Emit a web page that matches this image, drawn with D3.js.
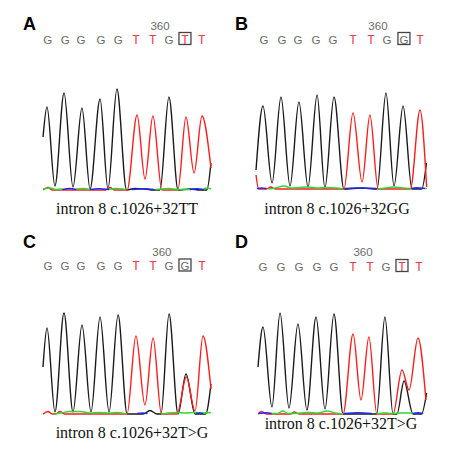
<!DOCTYPE html>
<html>
<head>
<meta charset="utf-8">
<script src="https://cdn.jsdelivr.net/npm/d3@7"></script>
<style>
body { margin: 0; background: #fff; }
</style>
</head>
<body>
<div class="figure"></div>
<script>
var width = 450, height = 461;

// panel texts
var panelNames = ["A", "B", "C", "D"];
var sequences = ["GGGGGTTGTT", "GGGGGTTGGT", "GGGGGTTGGT", "GGGGGTTGTT"];
var captions = ["intron 8 c.1026+32TT", "intron 8 c.1026+32GG", "intron 8 c.1026+32T>G", "intron 8 c.1026+32T>G"];
var markedBase = 8;
var positionLabel = "360";
var positionLabelAt = [6.56, 6.59, 6.63, 5.81];

// base call positions (in base units)
var baseCalls = [
	[0.04, 1.06, 1.97, 3.14, 4.14, 5.17, 6.14, 7.08, 8.01, 8.98],
	[0.06, 1.09, 2.01, 3.04, 4.01, 5.16, 6.19, 7.11, 8.08, 9.0],
	[0.06, 1.04, 1.96, 3.11, 4.1, 5.13, 6.12, 7.04, 7.96, 8.94],
	[0, 1.05, 2.09, 3.14, 4.12, 5.23, 6.21, 7.14, 8.07, 9.06]
];

// G channel (black): [position, signal]
var traceG = [
	[[-0.23,530],[0,830],[0.46,40],[0.99,970],[1.51,30],[2.03,820],[2.5,10],[3.08,910],[3.54,10],[4.06,1010],[4.62,0],[5.1,15],[5.7,10],[6.2,0],[6.56,0],[7.08,930],[7.61,0],[8.3,10],[8.9,0],[9.28,0],[9.52,270]],
	[[-0.4,190],[0,830],[0.52,60],[1.03,920],[1.55,30],[2.06,870],[2.58,20],[3.1,940],[3.55,10],[4.07,920],[4.64,0],[5.7,10],[6.54,0],[7.05,960],[7.51,30],[8.03,830],[8.54,0],[9.1,0],[9.37,260]],
	[[-0.23,470],[0,860],[0.46,20],[0.98,1010],[1.5,20],[2.02,890],[2.54,20],[3.06,970],[3.58,20],[4.1,990],[4.62,0],[5.54,0],[5.94,35],[6.35,0],[6.58,0],[7.04,1000],[7.56,0],[8.02,400],[8.54,0],[9.15,0],[9.46,300]],
	[[-0.29,470],[0,870],[0.52,70],[0.99,1010],[1.51,60],[2.03,900],[2.55,40],[3.08,970],[3.6,50],[4.12,1000],[4.65,0],[6.6,0],[7.08,970],[7.55,0],[7.78,0],[8.19,330],[8.71,0],[9.2,0],[9.5,210]]
];

// T channel (red)
var traceT = [
	[[-0.23,0],[0.05,25],[0.3,0],[3.4,0],[3.66,25],[3.9,0],[4.65,0],[5.23,750],[5.69,110],[6.15,740],[6.67,0],[7.6,0],[8.07,730],[8.54,170],[9.0,740],[9.52,220]],
	[[-0.4,140],[-0.25,0],[0.2,0],[0.45,20],[0.7,0],[4.64,0],[5.16,760],[5.68,70],[6.13,740],[6.6,0],[8.45,0],[9.0,790],[9.38,20]],
	[[-0.23,0],[0.06,25],[0.3,0],[0.5,0],[0.75,25],[1.0,0],[4.62,0],[5.13,780],[5.65,90],[6.12,760],[6.6,0],[7.5,0],[8.04,370],[8.54,30],[9.0,780],[9.46,250]],
	[[-0.29,0],[-0.1,25],[0.2,0],[1.6,0],[1.8,20],[2.1,0],[4.65,0],[5.23,800],[5.69,140],[6.15,770],[6.61,0],[7.55,0],[8.07,440],[8.48,240],[9.0,760],[9.46,140]]
];

// A channel (green), baseline pieces
var traceA = [
	[[[-0.23,10],[0.2,20],[0.5,5],[0.9,10]], [[1.7,10],[2.1,15],[2.5,5]], [[3.6,5],[4.0,15],[4.6,5]], [[6.3,5],[6.6,10],[7.1,15],[7.6,5],[8.3,5]], [[9.1,10],[9.3,20],[9.52,10]]],
	[[[0.3,0],[0.7,10],[1.2,30],[1.6,10],[2.1,15],[2.6,20],[3.1,10],[3.6,15],[4.2,10],[4.6,0]], [[6.6,0],[7.0,10],[7.5,20],[8.0,10],[8.5,5]], [[9.3,5],[9.4,5]]],
	[[[0.4,0],[0.8,10],[1.3,25],[1.9,25],[2.5,10],[3.0,15],[3.6,10],[4.1,15],[4.6,0]], [[6.6,0],[7.0,10],[7.5,15],[8.0,10],[8.5,15],[9.0,10],[9.46,15]]],
	[[[0.5,5],[0.85,5],[1.15,30],[1.45,5],[2.2,10],[2.6,15],[3.2,10],[3.7,30],[4.2,10],[4.65,0]], [[6.6,0],[7.1,10],[7.5,5],[8.0,10],[8.7,10]]]
];

// C channel (blue), baseline pieces
var traceC = [
	[[[0.9,5],[1.3,15],[1.7,5]], [[2.5,5],[3.0,12],[3.6,5]], [[4.9,5],[5.6,12],[6.2,5]], [[8.3,5],[8.7,12],[9.1,5]]],
	[[[-0.35,5],[-0.1,10],[0.2,5]], [[4.7,5],[5.4,10],[6.5,5]], [[8.5,5],[8.8,12],[9.3,5]]],
	[[[5.2,5],[5.5,10],[5.8,5]], [[8.6,5],[8.8,10],[9.0,5]]],
	[[[-0.25,5],[0.2,12],[0.5,5]], [[4.7,5],[5.5,12],[6.3,5]], [[8.7,5],[9.0,12],[9.3,5]]]
];

// where each panel sits
var layout = [
	{ x: 0,   y: 0,   x0: 47, x9: 202, base: 190, labelX: 23, labelY: 30, seqY: 43.5, numY: 30, capX: 127, capY: 214 },
	{ x: 225, y: 0,   x0: 38, x9: 195, base: 189, labelX: 10, labelY: 30, seqY: 43.5, numY: 30, capX: 112, capY: 214 },
	{ x: 0,   y: 230, x0: 47, x9: 203, base: 184, labelX: 23, labelY: 18, seqY: 40, numY: 26, capX: 132, capY: 208 },
	{ x: 225, y: 230, x0: 38, x9: 193, base: 184, labelX: 10, labelY: 18, seqY: 40.5, numY: 26, capX: 116, capY: 199 }
];

var baseColor = { G: '#6a6a6a', T: '#ec3b42' };
var baseFont = { G: '"Liberation Sans", Arial, sans-serif', T: '"Liberation Mono", "Courier New", monospace' };

var svg = d3.select('.figure')
	.append('svg')
	.attr('width', width)
	.attr('height', height);

panelNames.forEach(function(name, p) {
	var L = layout[p];
	var g = svg.append('g')
		.attr('transform', 'translate(' + L.x + ',' + L.y + ')');

	var x = d3.scaleLinear().domain([0, 9]).range([L.x0, L.x9]);
	var y = d3.scaleLinear().domain([0, 1000]).range([L.base, L.base - 100]);

	var line = d3.line()
		.x(function(d) { return x(d[0]); })
		.y(function(d) { return y(d[1]); })
		.curve(d3.curveMonotoneX);

	// panel letter
	g.append('text')
		.attr('x', L.labelX)
		.attr('y', L.labelY)
		.attr('font-family', '"Liberation Sans", Arial, sans-serif')
		.attr('font-weight', 'bold')
		.attr('font-size', 18)
		.attr('fill', '#000')
		.text(name);

	// position number
	g.append('text')
		.attr('x', x(positionLabelAt[p]))
		.attr('y', L.numY)
		.attr('text-anchor', 'middle')
		.attr('font-family', '"Liberation Sans", Arial, sans-serif')
		.attr('font-size', 11.5)
		.attr('fill', '#6a6a6a')
		.text(positionLabel);

	// base calls
	g.append('g').selectAll('text')
		.data(sequences[p].split(''))
		.enter().append('text')
		.attr('x', function(d, i) { return x(baseCalls[p][i]); })
		.attr('y', L.seqY)
		.attr('text-anchor', 'middle')
		.attr('font-family', function(d) { return baseFont[d]; })
		.attr('font-size', function(d) { return d === 'T' ? 12.5 : 11.5; })
		.attr('fill', function(d) { return baseColor[d]; })
		.text(function(d) { return d; });

	g.append('rect')
		.attr('x', x(baseCalls[p][markedBase]) - 6)
		.attr('y', L.seqY - 11)
		.attr('width', 12)
		.attr('height', 12)
		.attr('fill', 'none')
		.attr('stroke', '#444')
		.attr('stroke-width', 1.3);

	// traces
	g.append('path')
		.attr('d', line(traceG[p]))
		.attr('fill', 'none')
		.attr('stroke', '#1a1a1a')
		.attr('stroke-width', 1.4);

	g.append('path')
		.attr('d', line(traceT[p]))
		.attr('fill', 'none')
		.attr('stroke', '#ff1c1c')
		.attr('stroke-width', 1.4);

	g.append('g').selectAll('path')
		.data(traceA[p])
		.enter().append('path')
		.attr('d', line)
		.attr('fill', 'none')
		.attr('stroke', '#2fd82f')
		.attr('stroke-width', 1.4);

	g.append('g').selectAll('path')
		.data(traceC[p])
		.enter().append('path')
		.attr('d', line)
		.attr('fill', 'none')
		.attr('stroke', '#2424f0')
		.attr('stroke-width', 1.4);

	// caption
	g.append('text')
		.attr('x', L.capX)
		.attr('y', L.capY)
		.attr('text-anchor', 'middle')
		.attr('font-family', '"Liberation Serif", "Times New Roman", serif')
		.attr('font-size', 16)
		.attr('fill', '#111')
		.text(captions[p]);
});
</script>
</body>
</html>
